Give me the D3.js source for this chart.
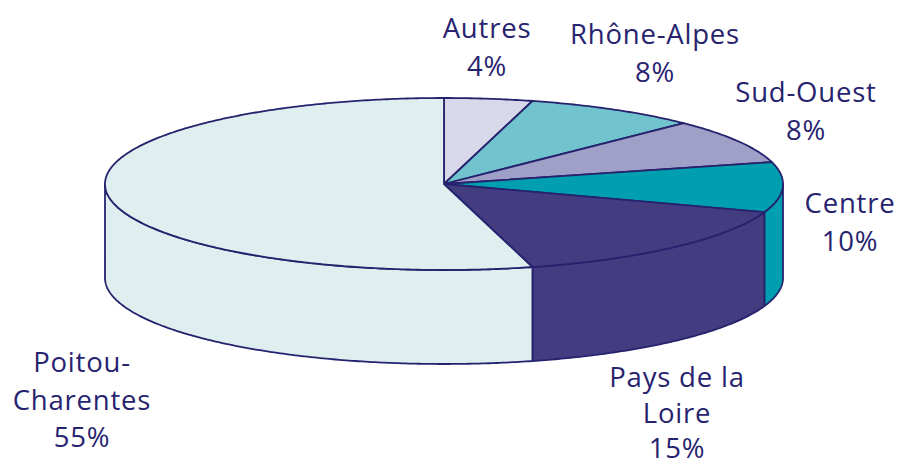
<!DOCTYPE html>
<html><head><meta charset="utf-8">
<script src="https://cdn.jsdelivr.net/npm/d3@7"></script>
<style>html,body{margin:0;padding:0;background:#fff}svg{display:block}</style>
</head><body>
<svg id="c" width="899" height="466"></svg>
<script>
// Data
const categories = ["Autres", "Rhône-Alpes", "Sud-Ouest", "Centre", "Pays de la Loire", "Poitou-Charentes"];
const values = [4.2, 8.3, 8.4, 9.4, 15.5, 54.2];
const percentLabels = ["4%", "8%", "8%", "10%", "15%", "55%"];
const labelLines = [["Autres"], ["Rhône-Alpes"], ["Sud-Ouest"], ["Centre"], ["Pays de la", "Loire"], ["Poitou-", "Charentes"]];
const colors = ["#d9d8ea", "#71c4ce", "#a09fc8", "#009faf", "#443c80", "#dfeff0"];

const svg = d3.select("#c");
const cx = 444, cy = 184, rx = 339, ry = 86, depth = 94;
const stroke = "#26236e";

const px = a => cx + rx * Math.sin(a);
const py = a => cy - ry * Math.cos(a);

const pie = d3.pie().sort(null).value(d => d).startAngle(0).endAngle(2 * Math.PI);
const arcs = pie(values);

function samples(a0, a1) {
  const n = Math.max(2, Math.ceil((a1 - a0) / 0.01));
  return d3.range(n + 1).map(i => a0 + (a1 - a0) * i / n);
}
const line = d3.line();

// sides
const gSide = svg.append("g");
arcs.forEach((d, i) => {
  const s0 = Math.max(d.startAngle, Math.PI / 2);
  const s1 = Math.min(d.endAngle, 3 * Math.PI / 2);
  if (s1 <= s0) return;
  const ang = samples(s0, s1);
  const pts = ang.map(a => [px(a), py(a)])
    .concat(ang.slice().reverse().map(a => [px(a), py(a) + depth]));
  gSide.append("path").attr("d", line(pts) + "Z")
    .attr("fill", colors[i]).attr("stroke", stroke).attr("stroke-width", 1.8)
    .attr("stroke-linejoin", "round");
});

// tops
const gTop = svg.append("g");
arcs.forEach((d, i) => {
  const ang = samples(d.startAngle, d.endAngle);
  const pts = [[cx, cy]].concat(ang.map(a => [px(a), py(a)]));
  gTop.append("path").attr("d", line(pts) + "Z")
    .attr("fill", colors[i]).attr("stroke", stroke).attr("stroke-width", 1.8)
    .attr("stroke-linejoin", "round");
});

// labels
const labelPos = [
  {x: 487, y: 38}, {x: 655, y: 44}, {x: 806, y: 102},
  {x: 850, y: 213}, {x: 677, y: 387}, {x: 82, y: 372}
];
const lh = 37.5;
const gLab = svg.append("g")
  .attr("font-family", "'Open Sans', sans-serif")
  .attr("font-size", 27.5)
  .attr("letter-spacing", 0.8)
  .attr("fill", "#27236f")
  .attr("text-anchor", "middle");
categories.forEach((c, i) => {
  const lines = labelLines[i].concat([percentLabels[i]]);
  const t = gLab.append("text").attr("x", labelPos[i].x).attr("y", labelPos[i].y);
  lines.forEach((l, j) => {
    t.append("tspan").attr("x", labelPos[i].x).attr("dy", j === 0 ? 0 : (i === 4 ? 35.5 : lh)).text(l);
  });
});
</script>
</body></html>
